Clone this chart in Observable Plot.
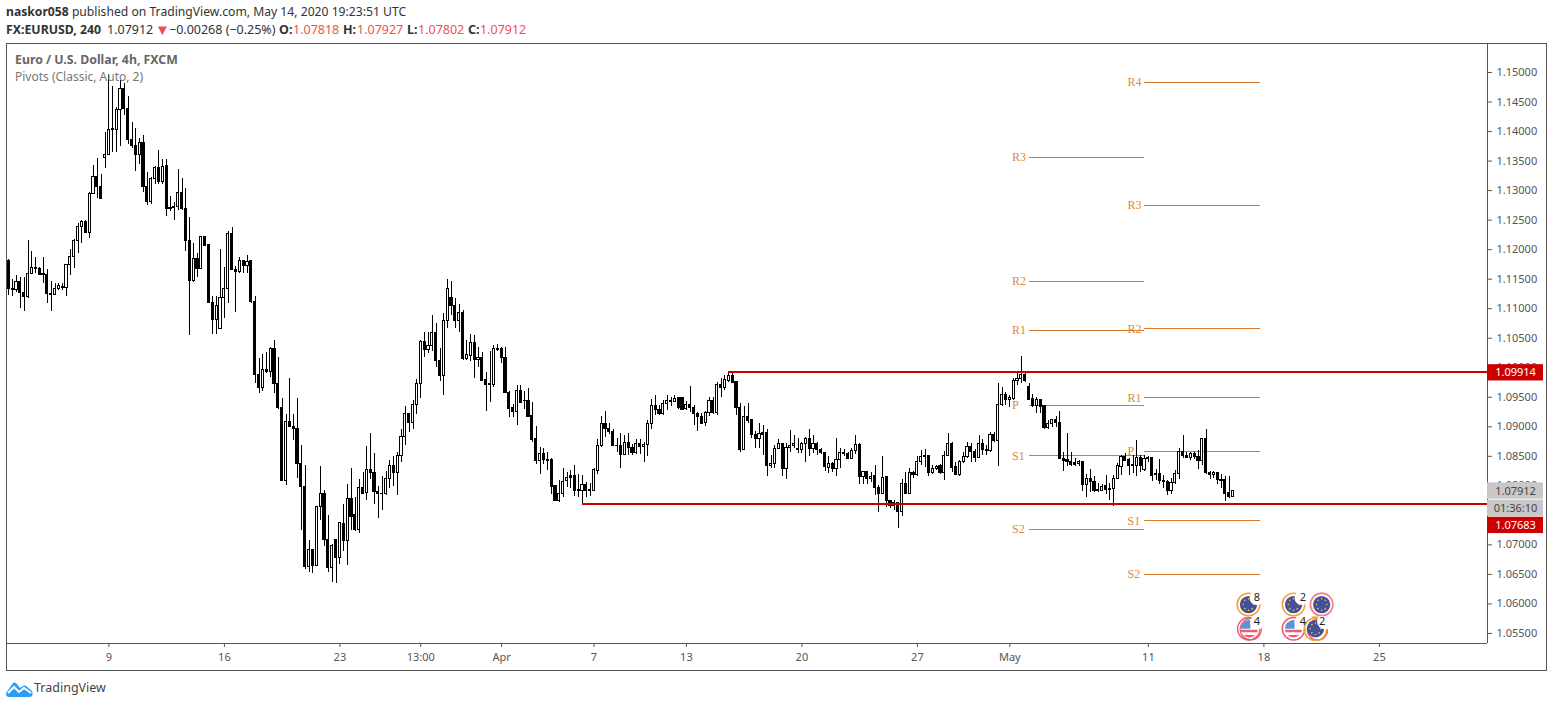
<!DOCTYPE html>
<html><head><meta charset="utf-8">
<script src="https://cdn.jsdelivr.net/npm/d3@7"></script>
<script src="https://cdn.jsdelivr.net/npm/@observablehq/plot@0.6"></script>
<style>
html,body{margin:0;padding:0;background:#fff;width:1554px;height:707px;overflow:hidden;font-family:"Noto Sans",sans-serif}
.t{position:absolute;white-space:pre;color:#333;font-size:12.5px;line-height:16px}
.t b{font-weight:700}.r{color:#ef5350}
#frame{position:absolute;left:6px;top:43px;width:1541px;height:628px;box-sizing:border-box;border:1px solid #555}
#chart{position:absolute;left:0;top:43px}
#chart svg{overflow:visible;display:block}
</style></head><body>
<div id="frame"></div><div id="chart"></div>
<div class="t" style="left:6px;top:4px;font-size:12.17px"><b>naskor058</b> published on TradingView.com, May 14, 2020 19:23:51 UTC</div>
<div class="t" style="left:6px;top:22px;font-size:12.3px"><b>FX:EURUSD, 240</b></div>
<div class="t" style="left:107px;top:22px">1.07912</div>
<div class="t r" style="left:155px;top:21px;font-size:15px">▼</div>
<div class="t" style="left:169px;top:22px">−0.00268 (−0.25%)</div>
<div class="t" style="left:279px;top:22px"><b>O:</b></div><div class="t r" style="left:293px;top:22px">1.07818</div>
<div class="t" style="left:343px;top:22px"><b>H:</b></div><div class="t r" style="left:357px;top:22px">1.07927</div>
<div class="t" style="left:407px;top:22px"><b>L:</b></div><div class="t r" style="left:418px;top:22px">1.07802</div>
<div class="t" style="left:468px;top:22px"><b>C:</b></div><div class="t r" style="left:480px;top:22px">1.07912</div>
<div class="t" style="left:15px;top:52px;color:#666;font-size:12.3px"><b>Euro / U.S. Dollar, 4h, FXCM</b></div>
<div class="t" style="left:15px;top:69px;color:#777;font-size:12px">Pivots (Classic, Auto, 2)</div>
<svg style="position:absolute;left:6px;top:681px" width="27" height="16" viewBox="0 0 27 16"><path d="M3 16 Q0 16 0 12 L7 2 Q8 1 10 2 L14 7 L17 5 Q19 4 20 5 L26 10 Q28 16 23 16 Z" fill="#2a9df4"/><path d="M2 12 L8 6 L13 11 L18 7 L25 12" fill="none" stroke="#fff" stroke-width="2"/></svg>
<div class="t" style="left:34px;top:680px;color:#444">TradingView</div>
<script>
// Each row: open, high, low, close
const week1=[[1.1180,1.1184,1.1122,1.1134],[1.1134,1.1149,1.1120,1.1132],[1.1131,1.1156,1.1128,1.1146],[1.1146,1.1153,1.1101,1.1126],[1.1127,1.1153,1.1096,1.1120],[1.1120,1.1215,1.1117,1.1159],[1.1159,1.1197,1.1158,1.1169],[1.1169,1.1187,1.1159,1.1167],[1.1168,1.1170,1.1156,1.1157],[1.1158,1.1187,1.1143,1.1157],[1.1157,1.1167,1.1109,1.1125],[1.1125,1.1146,1.1096,1.1123],[1.1123,1.1143,1.1122,1.1134],[1.1133,1.1142,1.1130,1.1138],[1.1136,1.1143,1.1131,1.1135],[1.1135,1.1174,1.1120,1.1174],[1.1174,1.1201,1.1156,1.1188],[1.1188,1.1218,1.1168,1.1215],[1.1215,1.1244,1.1193,1.1238],[1.1238,1.1249,1.1211,1.1247],[1.1247,1.1249,1.1227,1.1228],[1.1228,1.1296,1.1219,1.1295],[1.1295,1.1342,1.1293,1.1323],[1.1323,1.1355,1.1287,1.1306],[1.1306,1.1327,1.1285,1.1286],[1.1355,1.1399,1.1337,1.1361]];
const week2=[[1.1361,1.1497,1.1359,1.1403],[1.1403,1.1476,1.1365,1.1404],[1.1403,1.1440,1.1365,1.1437],[1.1437,1.1486,1.1375,1.1472],[1.1472,1.1481,1.1427,1.1438],[1.1438,1.1459,1.1378,1.1386],[1.1386,1.1416,1.1371,1.1375],[1.1376,1.1405,1.1333,1.1360],[1.1360,1.1389,1.1345,1.1381],[1.1381,1.1394,1.1297,1.1306],[1.1306,1.1331,1.1275,1.1280],[1.1280,1.1323,1.1276,1.1320],[1.1320,1.1341,1.1310,1.1339],[1.1339,1.1368,1.1311,1.1314],[1.1314,1.1352,1.1310,1.1340],[1.1341,1.1352,1.1256,1.1269],[1.1271,1.1290,1.1265,1.1269],[1.1273,1.1279,1.1249,1.1271],[1.1272,1.1336,1.1266,1.1296],[1.1296,1.1320,1.1267,1.1269],[1.1269,1.1303,1.1197,1.1214],[1.1215,1.1254,1.1055,1.1147],[1.1147,1.1210,1.1145,1.1184],[1.1184,1.1193,1.1152,1.1167],[1.1167,1.1222,1.1166,1.1221],[1.1221,1.1222,1.1205,1.1207],[1.1208,1.1208,1.1109,1.1109],[1.1109,1.1120,1.1056,1.1081],[1.1081,1.1120,1.1056,1.1105],[1.1066,1.1200,1.1065,1.1118]];
const week3=[[1.1118,1.1170,1.1084,1.1134],[1.1134,1.1231,1.1108,1.1227],[1.1227,1.1237,1.1164,1.1165],[1.1166,1.1172,1.1094,1.1162],[1.1162,1.1187,1.1160,1.1181],[1.1181,1.1182,1.1159,1.1172],[1.1172,1.1190,1.1159,1.1179],[1.1180,1.1180,1.1109,1.1111],[1.1112,1.1121,1.0973,1.0988],[1.0988,1.1015,1.0956,1.0966],[1.0966,1.1023,1.0959,1.0996],[1.0996,1.1025,1.0991,1.0993],[1.0993,1.1034,1.0984,1.1031],[1.1031,1.1046,1.0956,1.0973],[1.0973,1.1018,1.0929,1.0931],[1.0931,1.0948,1.0807,1.0809],[1.0809,1.0921,1.0801,1.0908],[1.0908,1.0981,1.0898,1.0899],[1.0899,1.0921,1.0877,1.0896],[1.0897,1.0948,1.0812,1.0837],[1.0837,1.0869,1.0725,1.0798],[1.0798,1.0834,1.0659,1.0663],[1.0663,1.0707,1.0654,1.0691],[1.0691,1.0693,1.0652,1.0665],[1.0665,1.0765,1.0663,1.0764],[1.0764,1.0832,1.0742,1.0787],[1.0787,1.0792,1.0697,1.0708],[1.0709,1.0750,1.0654,1.0661],[1.0661,1.0701,1.0637,1.0698],[1.0708,1.0708,1.0635,1.0678]];
const week4=[[1.0678,1.0738,1.0667,1.0737],[1.0736,1.0769,1.0688,1.0707],[1.0707,1.0803,1.0665,1.0778],[1.0778,1.0829,1.0725,1.0748],[1.0750,1.0780,1.0722,1.0725],[1.0725,1.0811,1.0720,1.0797],[1.0797,1.0823,1.0785,1.0787],[1.0788,1.0867,1.0775,1.0826],[1.0826,1.0888,1.0810,1.0822],[1.0822,1.0854,1.0769,1.0790],[1.0790,1.0799,1.0745,1.0787],[1.0787,1.0816,1.0759,1.0786],[1.0786,1.0825,1.0784,1.0812],[1.0812,1.0843,1.0795,1.0834],[1.0834,1.0849,1.0799,1.0821],[1.0821,1.0857,1.0784,1.0851],[1.0851,1.0896,1.0840,1.0883],[1.0883,1.0934,1.0869,1.0922],[1.0922,1.0922,1.0891,1.0906],[1.0906,1.0945,1.0896,1.0937],[1.0937,1.0980,1.0921,1.0973],[1.0973,1.1046,1.0948,1.1044],[1.1044,1.1060,1.1018,1.1030],[1.1030,1.1060,1.1024,1.1037],[1.1037,1.1088,1.1028,1.1059],[1.1059,1.1075,1.1001,1.1011],[1.1012,1.1032,1.0976,1.0986],[1.0986,1.1092,1.0953,1.1080],[1.1079,1.1149,1.1066,1.1133],[1.1118,1.1146,1.1089,1.1104]];
const week5=[[1.1105,1.1118,1.1066,1.1080],[1.1080,1.1107,1.1060,1.1093],[1.1093,1.1097,1.1013,1.1015],[1.1015,1.1046,1.1012,1.1021],[1.1020,1.1056,1.1011,1.1042],[1.1042,1.1055,1.0982,1.1013],[1.1013,1.1034,1.1001,1.1017],[1.1017,1.1026,1.0977,1.0978],[1.0979,1.0992,1.0926,1.0971],[1.0973,1.1028,1.0941,1.0971],[1.0971,1.1038,1.0966,1.1031],[1.1032,1.1039,1.1028,1.1030],[1.1032,1.1034,1.1007,1.1016],[1.1017,1.1034,1.0956,1.0957],[1.0957,1.0960,1.0916,1.0930],[1.0931,1.0938,1.0916,1.0925],[1.0925,1.0970,1.0902,1.0961],[1.0961,1.0970,1.0939,1.0941],[1.0944,1.0959,1.0930,1.0943],[1.0944,1.0965,1.0915,1.0917],[1.0918,1.0941,1.0874,1.0878],[1.0879,1.0900,1.0836,1.0842],[1.0842,1.0865,1.0819,1.0854],[1.0854,1.0864,1.0836,1.0843],[1.0844,1.0856,1.0826,1.0842],[1.0844,1.0847,1.0785,1.0798],[1.0799,1.0799,1.0774,1.0775],[1.0775,1.0809,1.0772,1.0787],[1.0787,1.0829,1.0781,1.0807],[1.0809,1.0823,1.0798,1.0813]];
const week6=[[1.0816,1.0826,1.0795,1.0813],[1.0816,1.0835,1.0782,1.0792],[1.0793,1.0819,1.0780,1.0791],[1.0791,1.0817,1.0767,1.0802],[1.0802,1.0806,1.0781,1.0791],[1.0793,1.0804,1.0782,1.0791],[1.0792,1.0830,1.0791,1.0826],[1.0825,1.0878,1.0819,1.0868],[1.0868,1.0917,1.0865,1.0905],[1.0905,1.0926,1.0882,1.0896],[1.0896,1.0906,1.0887,1.0891],[1.0891,1.0895,1.0866,1.0867],[1.0868,1.0880,1.0857,1.0867],[1.0868,1.0888,1.0829,1.0852],[1.0852,1.0885,1.0851,1.0873],[1.0873,1.0888,1.0851,1.0864],[1.0864,1.0870,1.0851,1.0855],[1.0855,1.0879,1.0853,1.0871],[1.0871,1.0879,1.0853,1.0865],[1.0865,1.0874,1.0840,1.0869],[1.0869,1.0911,1.0849,1.0905],[1.0905,1.0946,1.0895,1.0936],[1.0936,1.0953,1.0919,1.0929],[1.0929,1.0936,1.0919,1.0921],[1.0921,1.0944,1.0919,1.0939],[1.0939,1.0953,1.0928,1.0943],[1.0943,1.0949,1.0935,1.0942],[1.0942,1.0953,1.0941,1.0947],[1.0948,1.0950,1.0930,1.0931],[1.0949,1.0950,1.0928,1.0929]];
const week7=[[1.0930,1.0942,1.0928,1.0937],[1.0937,1.0968,1.0925,1.0931],[1.0932,1.0936,1.0902,1.0921],[1.0922,1.0925,1.0892,1.0916],[1.0916,1.0923,1.0904,1.0905],[1.0906,1.0926,1.0900,1.0923],[1.0923,1.0949,1.0917,1.0944],[1.0944,1.0950,1.0921,1.0923],[1.0923,1.0975,1.0919,1.0971],[1.0971,1.0981,1.0950,1.0965],[1.0965,1.0987,1.0961,1.0979],[1.0978,1.0991,1.0975,1.0986],[1.0986,1.0990,1.0974,1.0975],[1.0976,1.0977,1.0919,1.0931],[1.0931,1.0939,1.0857,1.0860],[1.0860,1.0934,1.0859,1.0916],[1.0916,1.0939,1.0906,1.0909],[1.0911,1.0912,1.0881,1.0886],[1.0886,1.0892,1.0864,1.0879],[1.0879,1.0905,1.0863,1.0888],[1.0890,1.0902,1.0851,1.0886],[1.0890,1.0895,1.0816,1.0833],[1.0833,1.0851,1.0830,1.0837],[1.0837,1.0868,1.0830,1.0863],[1.0863,1.0878,1.0861,1.0871],[1.0871,1.0872,1.0816,1.0829],[1.0828,1.0871,1.0811,1.0864],[1.0864,1.0894,1.0856,1.0868],[1.0867,1.0885,1.0864,1.0871],[1.0863,1.0880,1.0854,1.0861]];
const week8=[[1.0860,1.0874,1.0854,1.0871],[1.0871,1.0882,1.0840,1.0879],[1.0879,1.0896,1.0849,1.0862],[1.0862,1.0886,1.0854,1.0871],[1.0871,1.0874,1.0851,1.0860],[1.0861,1.0863,1.0853,1.0855],[1.0856,1.0857,1.0825,1.0832],[1.0831,1.0849,1.0821,1.0837],[1.0837,1.0840,1.0823,1.0829],[1.0828,1.0880,1.0816,1.0844],[1.0844,1.0864,1.0829,1.0856],[1.0856,1.0861,1.0849,1.0854],[1.0854,1.0857,1.0844,1.0845],[1.0845,1.0864,1.0844,1.0859],[1.0859,1.0885,1.0853,1.0869],[1.0869,1.0871,1.0803,1.0815],[1.0815,1.0825,1.0802,1.0824],[1.0824,1.0825,1.0803,1.0811],[1.0811,1.0822,1.0806,1.0815],[1.0816,1.0834,1.0784,1.0796],[1.0797,1.0800,1.0755,1.0787],[1.0787,1.0849,1.0787,1.0813],[1.0815,1.0816,1.0764,1.0775],[1.0775,1.0776,1.0761,1.0766],[1.0766,1.0775,1.0759,1.0771],[1.0771,1.0771,1.0727,1.0755],[1.0755,1.0810,1.0748,1.0803],[1.0803,1.0823,1.0785,1.0787],[1.0787,1.0829,1.0786,1.0822],[1.0822,1.0825,1.0812,1.0819]];
const week9=[[1.0819,1.0849,1.0816,1.0840],[1.0840,1.0859,1.0834,1.0849],[1.0851,1.0861,1.0831,1.0849],[1.0851,1.0852,1.0816,1.0821],[1.0821,1.0834,1.0819,1.0829],[1.0829,1.0834,1.0826,1.0832],[1.0833,1.0836,1.0819,1.0821],[1.0821,1.0858,1.0809,1.0850],[1.0850,1.0888,1.0849,1.0871],[1.0871,1.0874,1.0823,1.0831],[1.0832,1.0840,1.0817,1.0818],[1.0818,1.0843,1.0816,1.0841],[1.0841,1.0857,1.0838,1.0849],[1.0849,1.0874,1.0847,1.0866],[1.0866,1.0871,1.0840,1.0857],[1.0857,1.0862,1.0840,1.0847],[1.0847,1.0885,1.0847,1.0871],[1.0871,1.0878,1.0851,1.0860],[1.0860,1.0868,1.0851,1.0859],[1.0859,1.0891,1.0857,1.0886],[1.0886,1.0891,1.0874,1.0876],[1.0876,1.0973,1.0833,1.0937],[1.0937,1.0966,1.0935,1.0953],[1.0953,1.0958,1.0936,1.0946],[1.0946,1.0953,1.0933,1.0949],[1.0947,1.0981,1.0944,1.0977],[1.0977,1.0991,1.0970,1.0981],[1.0981,1.1019,1.0973,1.0988],[1.0988,1.0990,1.0975,1.0978],[1.0968,1.0974,1.0945,1.0946]];
const week10=[[1.0947,1.0955,1.0933,1.0935],[1.0936,1.0950,1.0922,1.0945],[1.0945,1.0947,1.0923,1.0934],[1.0936,1.0936,1.0896,1.0898],[1.0898,1.0911,1.0896,1.0905],[1.0905,1.0913,1.0898,1.0911],[1.0911,1.0917,1.0898,1.0907],[1.0907,1.0926,1.0844,1.0845],[1.0846,1.0857,1.0825,1.0842],[1.0843,1.0888,1.0833,1.0841],[1.0841,1.0857,1.0833,1.0836],[1.0838,1.0847,1.0833,1.0836],[1.0837,1.0843,1.0832,1.0841],[1.0841,1.0842,1.0791,1.0801],[1.0801,1.0820,1.0781,1.0812],[1.0812,1.0827,1.0789,1.0806],[1.0807,1.0815,1.0789,1.0792],[1.0793,1.0804,1.0789,1.0792],[1.0792,1.0802,1.0791,1.0798],[1.0799,1.0817,1.0785,1.0793],[1.0795,1.0804,1.0775,1.0793],[1.0794,1.0817,1.0765,1.0812],[1.0812,1.0837,1.0810,1.0833],[1.0832,1.0852,1.0817,1.0849],[1.0849,1.0855,1.0841,1.0842],[1.0843,1.0846,1.0817,1.0833],[1.0835,1.0851,1.0821,1.0834],[1.0834,1.0877,1.0815,1.0847],[1.0847,1.0851,1.0823,1.0834],[1.0826,1.0851,1.0825,1.0846]];
const week11=[[1.0847,1.0850,1.0839,1.0846],[1.0847,1.0848,1.0808,1.0817],[1.0820,1.0828,1.0809,1.0818],[1.0820,1.0844,1.0802,1.0808],[1.0808,1.0817,1.0796,1.0806],[1.0807,1.0809,1.0784,1.0792],[1.0792,1.0812,1.0785,1.0804],[1.0804,1.0826,1.0803,1.0820],[1.0820,1.0864,1.0811,1.0858],[1.0858,1.0885,1.0846,1.0850],[1.0851,1.0857,1.0846,1.0847],[1.0847,1.0857,1.0843,1.0854],[1.0854,1.0857,1.0844,1.0848],[1.0849,1.0859,1.0828,1.0842],[1.0842,1.0881,1.0834,1.0879],[1.0879,1.0896,1.0819,1.0821],[1.0822,1.0824,1.0810,1.0818],[1.0818,1.0824,1.0812,1.0822],[1.0821,1.0823,1.0803,1.0810],[1.0810,1.0820,1.0795,1.0809],[1.0810,1.0815,1.0774,1.0787],[1.0788,1.0816,1.0779,1.0781],[1.07818,1.07927,1.07802,1.07912]];

const xTickBars=[26,56,86,107,128,152,176,206,236,260,296,326,356];
const xTickLabels=["9","16","23","13:00","Apr","7","13","20","27","May","11","18","25"];
const priceTicks=[1.055,1.06,1.065,1.07,1.08,1.085,1.09,1.095,1.1,1.105,1.11,1.115,1.12,1.125,1.13,1.135,1.14,1.145,1.15];

const pivotNamesA=["R3","R2","R1","P","S1","S2"];
const pivotPricesA=[1.1356,1.1146,1.1063,1.0936,1.0851,1.0726];
const pivotNamesB=["R4","R3","R2","R1","P","S1","S2"];
const pivotPricesB=[1.1483,1.1275,1.1066,1.0949,1.0858,1.0741,1.0650];
const pivotSpanA=[265,295], pivotSpanB=[295,325];

const resistance=1.09914, support=1.07683;
const resistanceStart=187, supportStart=149;

const tagTexts=["1.09914","1.07912","01:36:10","1.07683"];
const tagPrices=[1.09914,1.07912,1.0762,1.0733];
const tagFills=["#cc0000","#c8c8c8","#c8c8c8","#cc0000"];
const tagInks=["#ffffff","#444444","#444444","#ffffff"];

const eventBars=[322,333.7,341,322.2,333.7,339.4];
const eventPrices=[1.0599,1.0599,1.0599,1.0558,1.0558,1.0558];
const eventKinds=["eu","eu","euRed","usDouble","us","euUs"];
const badgeBars=[324.2,336.1,324.2,336.1,341.1];
const badgePrices=[1.0611,1.0611,1.0570,1.0570,1.0570];
const badgeTexts=["8","2","4","4","2"];

const stars=[[12,6.5],[15.5,8],[17,12],[15.5,16],[12,17.5],[8.5,16],[7,12],[8.5,8]].map(([x,y])=>`<circle cx='${x}' cy='${y}' r='.8' fill='#f5c518'/>`).join("");
const icon=b=>"data:image/svg+xml,"+encodeURIComponent(`<svg xmlns='http://www.w3.org/2000/svg' viewBox='0 0 24 24'>${b}</svg>`);
const eu=`<circle cx='12' cy='12' r='8.3' fill='#43509f'/>${stars}`;
const bite=`<circle cx='20' cy='5.5' r='7' fill='#fff'/>`;
const usBody=`<clipPath id='c'><circle cx='12' cy='12' r='8.3'/></clipPath><g clip-path='url(#c)'><rect width='24' height='24' fill='#fff'/><rect x='0' y='13' width='24' height='2.4' fill='#ef5c6a'/><rect x='0' y='18' width='24' height='3' fill='#ef5c6a'/><rect x='3' y='3' width='10' height='9' fill='#5b92d8'/></g>`;
const iconFor={
  eu:icon(`<circle cx='12' cy='12' r='10.8' fill='none' stroke='#f7a035' stroke-width='1.5'/>${eu}${bite}`),
  euRed:icon(`<circle cx='12' cy='12' r='10.8' fill='none' stroke='#f7888f' stroke-width='1.8'/>${eu}`),
  us:icon(`<circle cx='12' cy='12' r='10.8' fill='none' stroke='#f2566a' stroke-width='1.5'/>${usBody}${bite}`),
  usDouble:icon(`<circle cx='13.5' cy='12.5' r='10.2' fill='none' stroke='#f2566a' stroke-width='1.2'/><circle cx='11.5' cy='12' r='10.8' fill='none' stroke='#f2566a' stroke-width='1.3'/>${usBody}${bite}`),
  euUs:icon(`<circle cx='14' cy='13' r='9.8' fill='none' stroke='#f2566a' stroke-width='1.2'/><circle cx='12' cy='12.5' r='10.8' fill='none' stroke='#f7a035' stroke-width='1.5'/><path d='M8 0 L15 0 L12 5Z' fill='#f7a035'/>${eu}<circle cx='21' cy='5' r='7.5' fill='#fff'/>`)
};

const candles=[...week1,...week2,...week3,...week4,...week5,...week6,...week7,...week8,...week9,...week10,...week11].map(([o,h,l,c],i)=>({i,o,h,l,c}));
const pivots=[...pivotNamesA.map((n,k)=>({n,p:pivotPricesA[k],a:pivotSpanA[0],b:pivotSpanA[1]})),...pivotNamesB.map((n,k)=>({n,p:pivotPricesB[k],a:pivotSpanB[0],b:pivotSpanB[1]}))];
const tags=tagTexts.map((t,k)=>({t,p:tagPrices[k],fill:tagFills[k],ink:tagInks[k],bold:k===0||k===3}));
const events=eventKinds.map((k,j)=>({src:iconFor[k],x:eventBars[j],y:eventPrices[j]}));
const badges=badgeTexts.map((t,j)=>({t,x:badgeBars[j],y:badgePrices[j]}));

const step=3.85, xLast=(1487-8.3)/step, xFirst=(7-8.3)/step;
const tagL=xLast, tagR=(1543-8.3)/step, tagC=(1515-8.3)/step;
const axisInk="#555";
const fam="'Noto Sans',sans-serif";

const chart=Plot.plot({
  width:1554,height:628,marginLeft:7,marginRight:67,marginTop:0,marginBottom:28,
  style:{background:"transparent",fontFamily:fam,fontSize:"11px",color:axisInk},
  x:{domain:[xFirst,xLast],range:[7,1487]},
  y:{domain:[1.0533,1.15491],range:[600,0]},
  color:{type:"identity"},
  marks:[
    Plot.ruleY(pivots,{y:"p",x1:"a",x2:"b",stroke:"#d9782a",strokeWidth:1,shapeRendering:"crispEdges"}),
    Plot.text(pivots,{y:"p",x:"a",text:"n",textAnchor:"start",dx:-17,fill:"#e0883c",fontFamily:"'Liberation Serif',serif",fontSize:12}),
    Plot.ruleX(candles,{x:"i",y1:"l",y2:"h",stroke:"#000",strokeWidth:1,shapeRendering:"crispEdges"}),
    Plot.rect(candles,{x1:d=>d.i-.28,x2:d=>d.i+.28,y1:"o",y2:"c",fill:d=>d.c>=d.o?"#ffffff":"#000000",stroke:"#000000",strokeWidth:1,shapeRendering:"crispEdges"}),
    Plot.ruleY([{y:resistance,x:resistanceStart},{y:support,x:supportStart}],{y:"y",x1:"x",x2:xLast,dy:-1,stroke:"#cc0000",strokeWidth:2,shapeRendering:"crispEdges"}),
    Plot.image(events,{x:"x",y:"y",src:"src",width:25,height:25}),
    Plot.text(badges,{x:"x",y:"y",text:"t",fill:"#222",fontSize:11}),
    Plot.ruleX([xLast],{stroke:axisInk,shapeRendering:"crispEdges"}),
    Plot.ruleY([1.0533],{stroke:axisInk,shapeRendering:"crispEdges"}),
    Plot.axisX({ticks:xTickBars,tickFormat:d=>xTickLabels[xTickBars.indexOf(d)],tickSize:4,tickPadding:6,stroke:axisInk,fill:axisInk,label:null,fontSize:11}),
    Plot.axisY({anchor:"right",ticks:priceTicks,tickFormat:d=>d.toFixed(5),tickSize:4,tickPadding:5,stroke:axisInk,fill:axisInk,label:null,fontSize:11}),
    Plot.rect(tags,{x1:tagL,x2:tagR,y1:d=>d.p-.00138,y2:d=>d.p+.00138,fill:"fill"}),
    Plot.text(tags,{x:tagC,y:"p",text:"t",fill:"ink",fontSize:11,fontWeight:d=>d.bold?700:400})
  ]
});
document.getElementById("chart").append(chart);
</script>
</body></html>
